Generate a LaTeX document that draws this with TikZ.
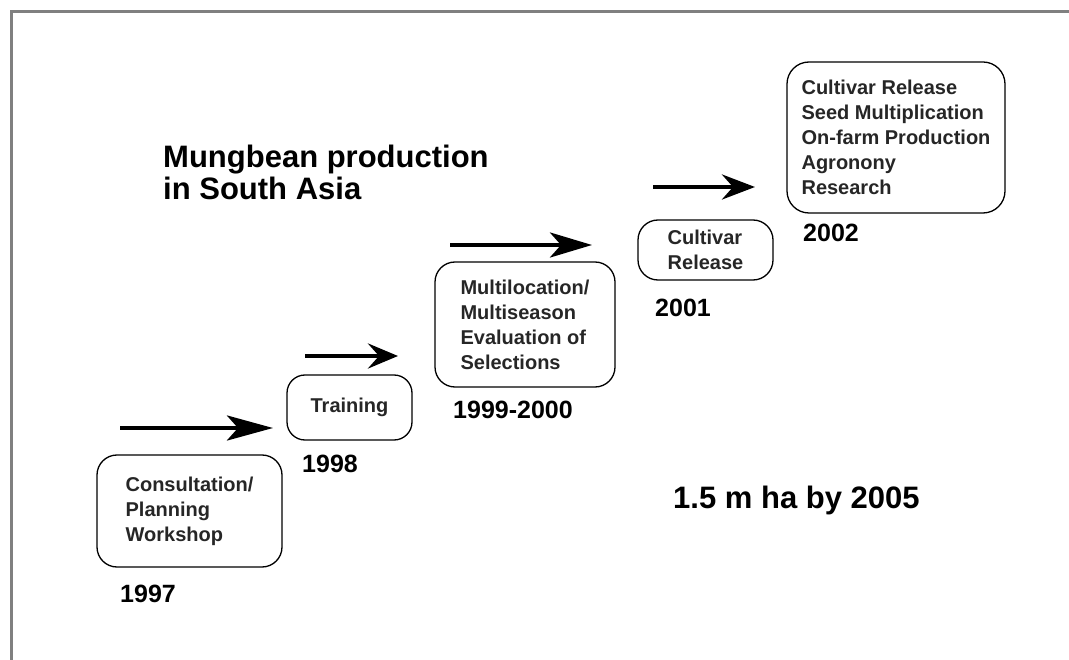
\documentclass[tikz,border=0pt]{standalone}
\usepackage{fontspec}
\setmainfont{Liberation Sans}
\usetikzlibrary{arrows.meta}
\begin{document}
\begin{tikzpicture}[x=1pt,y=-1pt,
  stage/.style={draw=black, line width=1.3pt, rounded corners=20pt, align=left,
    font=\bfseries\fontsize{20}{25}\selectfont, text=black!85, inner sep=0pt},
  yearlabel/.style={font=\bfseries\fontsize{25}{30}\selectfont, anchor=base west, inner sep=0pt},
  bigtext/.style={font=\bfseries\fontsize{31}{32}\selectfont, anchor=base west, inner sep=0pt},
  flow/.style={line width=4.5pt, -{Stealth[length=#1, width=25pt, inset=11pt]}},
]
\useasboundingbox (0,0) rectangle (1069,660);
\fill[white] (0,0) rectangle (1069,660);
% frame
\draw[gray, line width=3pt] (11.5,660) -- (11.5,11.5) -- (1069,11.5);

% title
\node[bigtext] (t1) at (163,168) {Mungbean production};
\node[bigtext] (t2) at (163,200) {in South Asia};

% stages
\node[stage, minimum width=185pt, minimum height=112pt] (s1) at (189.5,511) {Consultation/\\Planning\\Workshop};
\node[stage, minimum width=125pt, minimum height=65pt, rounded corners=18pt] (s2) at (349.5,407.5) {Training};
\node[stage, minimum width=180pt, minimum height=125pt] (s3) at (525,324.5) {Multilocation/\\Multiseason\\Evaluation of\\Selections};
\node[stage, minimum width=135pt, minimum height=60pt] (s4) at (705.5,250) {Cultivar\\Release};
\node[stage, minimum width=218pt, minimum height=151pt, rounded corners=22pt] (s5) at (896,137.5) {Cultivar Release\\Seed Multiplication\\On-farm Production\\Agronony\\Research};

% years
\node[yearlabel] (y1) at (120,602) {1997};
\node[yearlabel] (y2) at (302,472) {1998};
\node[yearlabel] (y3) at (453,418) {1999-2000};
\node[yearlabel] (y4) at (655,317) {2001};
\node[yearlabel] (y5) at (803,242) {2002};

\node[bigtext] (goal) at (673,508) {1.5 m ha by 2005};

% arrows
\coordinate (a1s) at (120,428); \coordinate (a1e) at (273,428);
\coordinate (a2s) at (305,356); \coordinate (a2e) at (398,356);
\coordinate (a3s) at (450,245); \coordinate (a3e) at (592,245);
\coordinate (a4s) at (653,187); \coordinate (a4e) at (755,187);
\draw[flow=46pt] (a1s) -- (a1e);
\draw[flow=30pt] (a2s) -- (a2e);
\draw[flow=42pt] (a3s) -- (a3e);
\draw[flow=33pt] (a4s) -- (a4e);
\end{tikzpicture}
\end{document}
